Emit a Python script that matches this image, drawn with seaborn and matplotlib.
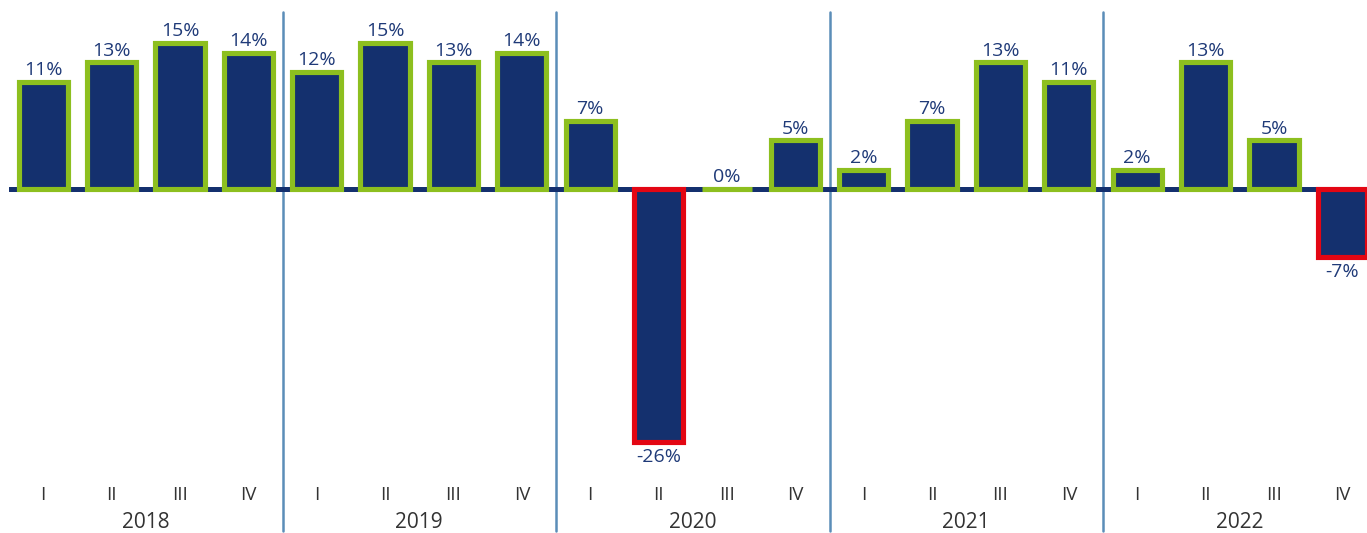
import matplotlib
matplotlib.use("Agg")
import matplotlib.pyplot as plt
import seaborn as sns
import pandas as pd

years = ["2018", "2019", "2020", "2021", "2022"]
quarters = ["I", "II", "III", "IV"]
values = [11, 13, 15, 14,
          12, 15, 13, 14,
          7, -26, 0, 5,
          2, 7, 13, 11,
          2, 13, 5, -7]

labels = [f"{y} {q}" for y in years for q in quarters]
df = pd.DataFrame({"period": labels, "value": values})

navy = "#14306e"
green = "#8dbf1f"
red = "#e30613"
sep_col = "#5b8db8"
txt_navy = "#1f3a78"
txt_gray = "#333333"

sns.set_theme(style="white")
plt.rcParams["font.family"] = ["Open Sans", "DejaVu Sans"]

fig = plt.figure(figsize=(13.67, 5.33), dpi=100)
ax = fig.add_axes([9 / 1367, 0, 1 - 9 / 1367, 1])

sns.barplot(data=df, x="period", y="value", order=labels, color=navy,
            saturation=1, width=0.72, ax=ax, zorder=3)

for p, v in zip(ax.patches, values):
    p.set_facecolor(navy)
    p.set_edgecolor(green if v >= 0 else red)
    p.set_linewidth(3.7)
    p.set_joinstyle("miter")

ax.set_xlim(-0.5, 19.36)
ax.set_ylim(-35.35, 19.42)
ax.axhline(0, color=navy, lw=3.6, zorder=2)

for i, v in enumerate(values):
    if v >= 0:
        ax.annotate(f"{v}%", (i, v), xytext=(0, 2), textcoords="offset points",
                    ha="center", va="bottom", fontsize=14, color=txt_navy)
    else:
        ax.annotate(f"{v}%", (i, v), xytext=(0, -4), textcoords="offset points",
                    ha="center", va="top", fontsize=14, color=txt_navy)

for k in range(1, len(years)):
    ax.plot([4 * k - 0.5, 4 * k - 0.5], [18.2, -35.1], color=sep_col, lw=1.8, zorder=1)

for i, lab in enumerate(labels):
    q = lab.split(" ")[1]
    ax.text(i, -31.45, q, ha="center", va="center", fontsize=13.5, color=txt_gray)

for k, y in enumerate(years):
    ax.text(4 * k + 1.5, -34.3, y, ha="center", va="center", fontsize=15, color=txt_gray)

ax.set_axis_off()
fig.savefig("out.png", dpi=100)
